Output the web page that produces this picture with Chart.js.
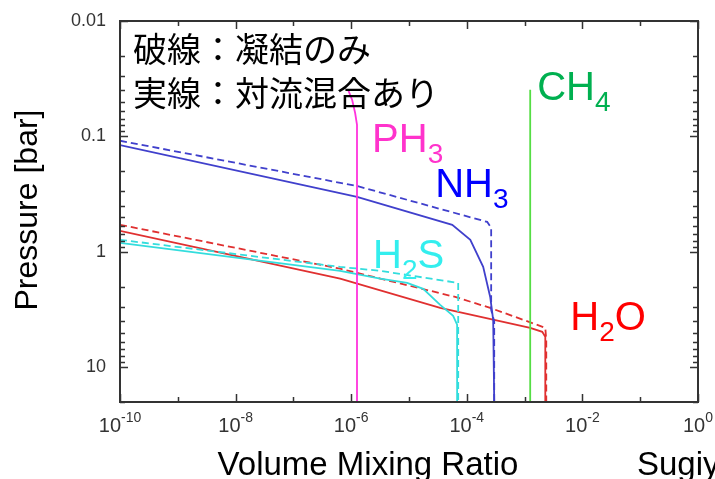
<!DOCTYPE html>
<html>
<head>
<meta charset="utf-8">
<script src="https://cdn.jsdelivr.net/npm/chart.js@4.4.1/dist/chart.umd.min.js"></script>
<style>
    html, body { margin: 0; padding: 0; background: #fff; }
    canvas { display: block; }
</style>
</head>
<body>
<canvas id="myChart" width="715" height="479"></canvas>
<script>
    "use strict";

    // [mixing ratio, pressure in bar]
    var nh3Solid = [[1e-10, 0.119], [1.26e-6, 0.334], [5.6e-5, 0.583], [1.15e-4, 0.787], [1.92e-4, 1.35], [2.54e-4, 2.46], [2.86e-4, 3.88], [2.98e-4, 20]];
    var nh3Dashed = [[1e-10, 0.109], [1.26e-6, 0.269], [2.25e-4, 0.55], [2.64e-4, 0.62], [2.64e-4, 3.18], [2.98e-4, 4.0], [2.98e-4, 20]];
    var ph3Line = [[8.85e-7, 0.0395], [1.04e-6, 0.0483], [1.17e-6, 0.0627], [1.26e-6, 0.0795], [1.26e-6, 20]];
    var ch4Line = [[1.25e-3, 0.0395], [1.25e-3, 20]];
    var h2sSolid = [[1e-10, 0.835], [6.43e-7, 1.46], [3.17e-6, 1.71], [9.3e-6, 1.86], [1.76e-5, 2.09], [3.46e-5, 2.88], [5.8e-5, 3.58], [6.8e-5, 4.28], [6.8e-5, 20]];
    var h2sDashed = [[1e-10, 0.787], [6.43e-7, 1.35], [3.17e-6, 1.46], [7.1e-5, 1.86], [7.1e-5, 20]];
    var h2oSolid = [[1e-10, 0.658], [6.43e-7, 1.71], [3.46e-5, 3.06], [1.25e-3, 4.55], [2.02e-3, 4.93], [2.28e-3, 5.45], [2.28e-3, 20]];
    var h2oDashed = [[1e-10, 0.583], [6.43e-7, 1.40], [6.3e-5, 2.46], [2.54e-4, 3.06], [2.28e-3, 4.55], [2.37e-3, 5.78], [2.37e-3, 20]];

    var xExponents = [-10, -9, -8, -7, -6, -5, -4, -3, -2, -1, 0];
    var xLabelExponents = [-10, -8, -6, -4, -2, 0];
    var yDecades = [0.01, 0.1, 1, 10];
    var yTickLabels = ['0.01', '0.1', '1', '10'];

    // species labels: text parts, anchor [mixing ratio, pressure], colour
    var speciesLabels = [
        { parts: [['CH', 0], ['4', 1]], at: [1.65e-3, 0.0483], color: '#00b050' },
        { parts: [['PH', 0], ['3', 1]], at: [2.3e-6, 0.136], color: '#ff33cc' },
        { parts: [['NH', 0], ['3', 1]], at: [2.84e-5, 0.334], color: '#0000ff' },
        { parts: [['H', 0], ['2', 1], ['S', 0]], at: [2.39e-6, 1.377], color: '#33eeee' },
        { parts: [['H', 0], ['2', 1], ['O', 0]], at: [6.17e-3, 4.73], color: '#ff0000' }
    ];
    var noteLines = ['破線：凝結のみ', '実線：対流混合あり'];

    var latin = '"Liberation Sans", Arial, sans-serif';
    var cjk = '"Noto Sans CJK JP", sans-serif';

    function toPoints(arr) {
        return arr.map(function (p) { return { x: p[0], y: p[1] }; });
    }

    function line(label, arr, color, dashed) {
        return {
            label: label,
            data: toPoints(arr),
            showLine: true,
            borderColor: color,
            borderWidth: 1.8,
            borderDash: dashed ? [7, 4] : [],
            pointRadius: 0,
            fill: false,
            tension: 0
        };
    }

    var framePlugin = {
        id: 'frame',
        afterDraw: function (chart) {
            var ctx = chart.ctx;
            var a = chart.chartArea;
            var xs = chart.scales.x;
            var ys = chart.scales.y;
            ctx.save();

            // ticks, pointing inward on all four sides
            ctx.strokeStyle = '#333';
            ctx.lineWidth = 1.5;
            ctx.beginPath();
            xExponents.forEach(function (e) {
                var px = Math.round(xs.getPixelForValue(Math.pow(10, e))) + 0.5;
                var len = (e % 2 === 0) ? 8 : 5;
                ctx.moveTo(px, a.bottom); ctx.lineTo(px, a.bottom - len);
                ctx.moveTo(px, a.top); ctx.lineTo(px, a.top + len);
            });
            yDecades.forEach(function (d) {
                for (var k = 1; k <= 9; k++) {
                    var v = d * k;
                    if (v < ys.min || v > ys.max) continue;
                    var py = Math.round(ys.getPixelForValue(v)) + 0.5;
                    var len = (k === 1) ? 8 : 5;
                    ctx.moveTo(a.left, py); ctx.lineTo(a.left + len, py);
                    ctx.moveTo(a.right, py); ctx.lineTo(a.right - len, py);
                }
            });
            ctx.stroke();

            // frame
            ctx.lineWidth = 2;
            ctx.strokeRect(a.left, a.top, a.right - a.left, a.bottom - a.top);

            // tick labels
            ctx.fillStyle = '#333';
            ctx.textBaseline = 'middle';
            ctx.textAlign = 'right';
            ctx.font = '18px ' + latin;
            yDecades.forEach(function (d, i) {
                ctx.fillText(yTickLabels[i], a.left - 14, ys.getPixelForValue(d));
            });
            ctx.textBaseline = 'alphabetic';
            ctx.textAlign = 'left';
            xLabelExponents.forEach(function (e) {
                var px = xs.getPixelForValue(Math.pow(10, e));
                var sup = String(e);
                ctx.font = '20px ' + latin;
                var w1 = ctx.measureText('10').width;
                ctx.font = '14px ' + latin;
                var w2 = ctx.measureText(sup).width;
                var x0 = px - (w1 + w2) / 2;
                ctx.font = '20px ' + latin;
                ctx.fillText('10', x0, a.bottom + 30);
                ctx.font = '14px ' + latin;
                ctx.fillText(sup, x0 + w1, a.bottom + 20);
            });

            // axis titles
            ctx.fillStyle = '#000';
            ctx.font = '33px ' + latin;
            ctx.textAlign = 'center';
            ctx.fillText('Volume Mixing Ratio', (a.left + a.right) / 2 - 41, 475);
            ctx.textAlign = 'left';
            ctx.fillText('Sugiyama', 637, 475);
            ctx.save();
            ctx.translate(37, 210);
            ctx.rotate(-Math.PI / 2);
            ctx.textAlign = 'center';
            ctx.font = '32px ' + latin;
            ctx.fillText('Pressure [bar]', 0, 0);
            ctx.restore();

            // species labels
            speciesLabels.forEach(function (lab) {
                var x = xs.getPixelForValue(lab.at[0]);
                var y = ys.getPixelForValue(lab.at[1]);
                ctx.fillStyle = lab.color;
                lab.parts.forEach(function (part) {
                    ctx.font = (part[1] ? '28px ' : '40px ') + latin;
                    ctx.fillText(part[0], x, part[1] ? y + 11 : y);
                    x += ctx.measureText(part[0]).width;
                });
            });

            // note
            ctx.fillStyle = '#000';
            ctx.font = '34px ' + cjk;
            ctx.textBaseline = 'middle';
            ctx.fillText(noteLines[0], a.left + 13, 49);
            ctx.fillText(noteLines[1], a.left + 13, 93);

            ctx.restore();
        }
    };

    var ctx = document.getElementById('myChart').getContext('2d');
    var chart = new Chart(ctx, {
        type: 'scatter',
        data: {
            datasets: [
                line('PH3', ph3Line, '#ff33dd', false),
                line('CH4', ch4Line, '#55dd44', false),
                line('NH3 condensation', nh3Dashed, '#4040cc', true),
                line('NH3 mixing', nh3Solid, '#4040cc', false),
                line('H2S condensation', h2sDashed, '#33dddd', true),
                line('H2S mixing', h2sSolid, '#33dddd', false),
                line('H2O condensation', h2oDashed, '#e03030', true),
                line('H2O mixing', h2oSolid, '#e03030', false)
            ]
        },
        options: {
            responsive: false,
            animation: false,
            layout: {
                padding: { left: 120, top: 21, right: 17, bottom: 77 }
            },
            plugins: {
                legend: { display: false },
                tooltip: { enabled: false }
            },
            scales: {
                x: {
                    type: 'logarithmic',
                    min: 1e-10,
                    max: 1,
                    display: false
                },
                y: {
                    type: 'logarithmic',
                    min: 0.01,
                    max: 20,
                    reverse: true,
                    display: false
                }
            }
        },
        plugins: [framePlugin]
    });
</script>
</body>
</html>
